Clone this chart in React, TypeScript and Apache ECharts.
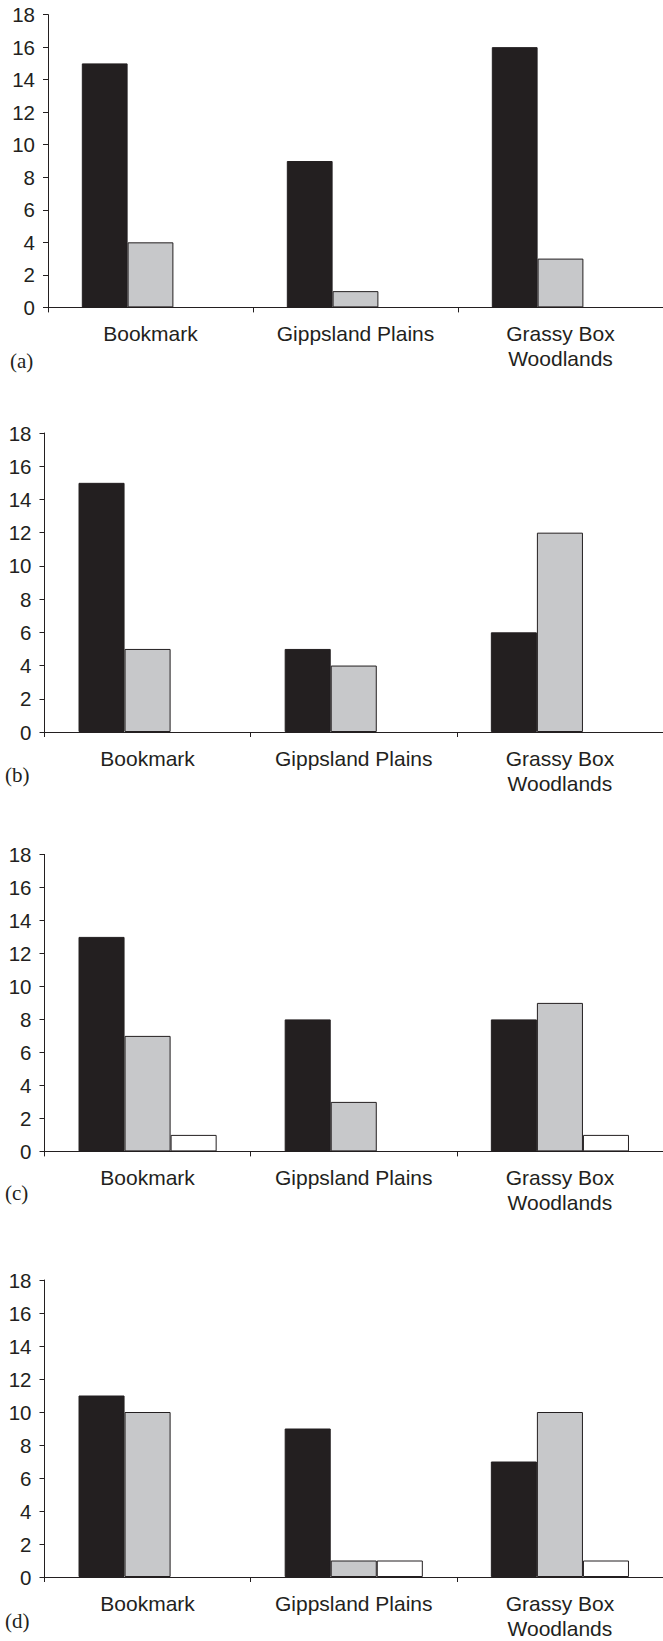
import React, { useEffect, useRef } from "react";
import * as echarts from "echarts";

const categories = ["Bookmark", "Gippsland Plains", "Grassy Box\nWoodlands"];
const yTicks = [0, 2, 4, 6, 8, 10, 12, 14, 16, 18];

const panelLabels = ["(a)", "(b)", "(c)", "(d)"];

const blackA = [15, 9, 16];
const grayA = [4, 1, 3];
const whiteA = [null, null, null];

const blackB = [15, 5, 6];
const grayB = [5, 4, 12];
const whiteB = [null, null, null];

const blackC = [13, 8, 8];
const grayC = [7, 3, 9];
const whiteC = [1, null, 1];

const blackD = [11, 9, 7];
const grayD = [10, 1, 10];
const whiteD = [null, 1, 1];

const panels = [
  { black: blackA, gray: grayA, white: whiteA },
  { black: blackB, gray: grayB, white: whiteB },
  { black: blackC, gray: grayC, white: whiteC },
  { black: blackD, gray: grayD, white: whiteD },
];

// layout (pixels)
const grids = [
  { left: 48, top: 14.6, height: 292.8, width: 616.5 },
  { left: 44.5, top: 433, height: 299, width: 620 },
  { left: 44.5, top: 854.4, height: 297, width: 620 },
  { left: 44.5, top: 1280, height: 297, width: 620 },
];
const labelPos = [
  { x: 10, y: 363 },
  { x: 5, y: 777 },
  { x: 5, y: 1195 },
  { x: 5, y: 1623 },
];

const INK = "#231f20";
const GRAY = "#c7c8ca";
const WHITE = "#ffffff";
const SANS = "'Liberation Sans', Arial, Helvetica, sans-serif";
const SERIF = "'Liberation Serif', 'Times New Roman', serif";

export default function App() {
  const ref = useRef<HTMLDivElement>(null);

  useEffect(() => {
    if (!ref.current) return;
    const chart = echarts.init(ref.current, null, { renderer: "svg" });

    const series: any[] = [];
    panels.forEach((p, i) => {
      const colors = [INK, GRAY, WHITE];
      const datas = [p.black, p.gray, p.white];
      datas.forEach((d, k) => {
        series.push({
          type: "bar",
          xAxisIndex: i,
          yAxisIndex: i,
          data: d.map((v) => (v === null ? "-" : v)),
          barGap: "0%",
          barCategoryGap: "33%",
          itemStyle: { color: colors[k], borderColor: INK, borderWidth: 1 },
          emphasis: { disabled: true },
          silent: true,
        });
      });
    });

    const option: any = {
      animation: false,
      backgroundColor: "#ffffff",
      grid: grids.map((g) => ({ ...g, containLabel: false })),
      xAxis: grids.map((_, i) => ({
        type: "category",
        gridIndex: i,
        data: categories,
        boundaryGap: true,
        axisLine: { show: true, lineStyle: { color: INK, width: 1 } },
        axisTick: { show: true, alignWithLabel: false, length: 5, lineStyle: { color: INK } },
        axisLabel: {
          color: INK,
          fontSize: 21,
          fontFamily: SANS,
          lineHeight: 25,
          margin: 14,
          interval: 0,
        },
        splitLine: { show: false },
      })),
      yAxis: grids.map((_, i) => ({
        type: "value",
        gridIndex: i,
        min: yTicks[0],
        max: yTicks[yTicks.length - 1],
        interval: 2,
        axisLine: { show: true, lineStyle: { color: INK, width: 1 } },
        axisTick: { show: true, length: 5, lineStyle: { color: INK } },
        axisLabel: { color: INK, fontSize: 20.5, fontFamily: SANS, margin: 13 },
        splitLine: { show: false },
      })),
      graphic: panelLabels.map((t, i) => ({
        type: "text",
        left: labelPos[i].x,
        top: labelPos[i].y - 13,
        style: { text: t, fill: INK, font: `21px ${SERIF}` },
      })),
      series,
    };
    chart.setOption(option);
    return () => chart.dispose();
  }, []);

  return (
    <div
      ref={ref}
      style={{ position: "absolute", left: 0, top: 0, width: 663, height: 1641, background: "#fff" }}
    />
  );
}
